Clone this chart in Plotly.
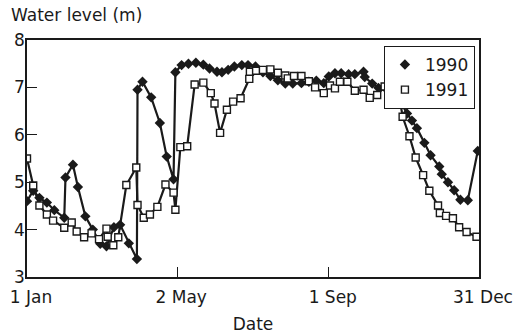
import plotly.graph_objects as go

# Day of year (0 = 1 Jan) and water level (m)
days_1990 = [0, 5, 10, 16, 22, 30, 31, 37, 41, 47, 53, 59, 64, 70, 75, 82, 88.5, 89, 93,
             100, 107, 112.5, 118, 119.5, 124.5, 130, 136, 142, 147, 153, 157, 162, 167,
             173, 178, 184, 190, 196, 202, 208, 214, 221, 227, 233, 239, 243, 248, 253,
             259, 264, 271, 272, 278, 283, 290, 295, 301, 306, 310, 314, 320, 325, 332,
             334, 339, 344, 349, 355, 363]
level_1990 = [4.60, 4.82, 4.67, 4.57, 4.41, 4.25, 5.10, 5.37, 4.90, 4.28, 4.00, 3.70, 3.65,
              4.05, 4.10, 3.71, 3.38, 6.95, 7.12, 6.79, 6.25, 5.54, 5.06, 7.32, 7.47, 7.50,
              7.52, 7.48, 7.40, 7.33, 7.32, 7.37, 7.44, 7.47, 7.47, 7.44, 7.32, 7.24, 7.15,
              7.08, 7.08, 7.09, 7.12, 7.14, 7.09, 7.23, 7.30, 7.30, 7.28, 7.28, 7.33, 7.22,
              7.08, 6.99, 6.95, 6.88, 6.68, 6.45, 6.30, 6.14, 5.83, 5.57, 5.33, 5.17, 5.00,
              4.83, 4.63, 4.62, 5.66]

days_1991 = [0, 5, 10, 16, 21, 30, 36, 40, 46, 52, 58, 64, 65, 69.5, 73.5, 80, 88, 89, 94,
             99, 105, 111.5, 118, 119.5, 123.5, 129, 135, 142, 148, 151, 155.5, 161, 166,
             172, 179, 179.5, 184.5, 190, 196, 202, 208, 210, 215, 221, 227, 232, 239, 244,
             248, 252, 258, 264, 271, 276, 282, 288, 294, 300, 302.5, 308, 313, 319, 324,
             331, 332.5, 337.5, 343, 348, 354, 362]
level_1991 = [5.50, 4.93, 4.51, 4.32, 4.19, 4.04, 4.15, 3.96, 3.84, 3.92, 3.80, 4.02, 3.85,
              3.67, 3.84, 4.94, 5.31, 4.52, 4.25, 4.32, 4.48, 4.95, 4.78, 4.42, 5.74, 5.76,
              7.06, 7.10, 6.88, 6.66, 6.04, 6.53, 6.70, 6.77, 7.18, 7.33, 7.35, 7.37, 7.38,
              7.31, 7.25, 7.19, 7.24, 7.24, 7.13, 7.00, 6.88, 7.04, 6.98, 7.12, 7.12, 6.93,
              6.95, 6.78, 6.84, 7.02, 7.02, 6.78, 6.38, 5.97, 5.52, 5.15, 4.82, 4.51, 4.35,
              4.29, 4.24, 4.05, 3.95, 3.85]

tick_days = [0, 121, 243, 364]
tick_labels = ["1 Jan", "2 May", "1 Sep", "31 Dec"]

FONT = "DejaVu Sans"
INK = "#1a1a1a"

fig = go.Figure()
fig.add_trace(go.Scatter(
    x=days_1990, y=level_1990, mode="lines+markers", name="1990", showlegend=False,
    line=dict(color=INK, width=2.2),
    marker=dict(symbol="diamond", size=8, color=INK, line=dict(width=0)),
))
fig.add_trace(go.Scatter(
    x=days_1991, y=level_1991, mode="lines+markers", name="1991", showlegend=False,
    line=dict(color=INK, width=2.2),
    marker=dict(symbol="square", size=7, color="white", line=dict(color=INK, width=1.4)),
))
# legend-only entries (markers without line)
fig.add_trace(go.Scatter(
    x=[None], y=[None], mode="markers", name="1990",
    marker=dict(symbol="diamond", size=8, color=INK, line=dict(width=0)),
))
fig.add_trace(go.Scatter(
    x=[None], y=[None], mode="markers", name="1991",
    marker=dict(symbol="square", size=7, color="white", line=dict(color=INK, width=1.4)),
))

fig.update_layout(
    width=516, height=336,
    margin=dict(l=27, r=37, t=40, b=59, autoexpand=False),
    paper_bgcolor="white", plot_bgcolor="white",
    font=dict(family=FONT, size=17, color=INK),
    legend=dict(
        x=0.991, y=0.975, xanchor="right", yanchor="top",
        bordercolor=INK, borderwidth=1, bgcolor="white",
        font=dict(family=FONT, size=17, color=INK),
        tracegroupgap=0, itemwidth=30,
    ),
    xaxis=dict(
        range=[0, 364], tickvals=tick_days, ticktext=tick_labels,
        ticks="inside", ticklen=10, tickwidth=1.2, tickcolor=INK,
        showline=True, linecolor=INK, linewidth=1.5, mirror=True,
        showgrid=False, zeroline=False, ticklabelshift=4, ticklabelstandoff=4,
        automargin=False,
        title=dict(text="Date", font=dict(family=FONT, size=17, color=INK), standoff=12),
    ),
    yaxis=dict(
        range=[3, 8], tickvals=[3, 4, 5, 6, 7, 8],
        ticks="inside", ticklen=10, tickwidth=1.2, tickcolor=INK,
        showline=True, linecolor=INK, linewidth=1.5, mirror=True,
        showgrid=False, zeroline=False, automargin=False, ticklabelstandoff=-3,
    ),
    annotations=[dict(
        text="Water level (m)", xref="paper", yref="paper",
        x=-18 / 452, y=1, xanchor="left", yanchor="middle", yshift=25,
        showarrow=False, font=dict(family=FONT, size=17, color=INK),
    )],
)

fig.write_html(
    "out.html",
    config={"displayModeBar": False},
    post_script="document.body.style.margin='0';document.body.style.overflow='hidden';",
)
